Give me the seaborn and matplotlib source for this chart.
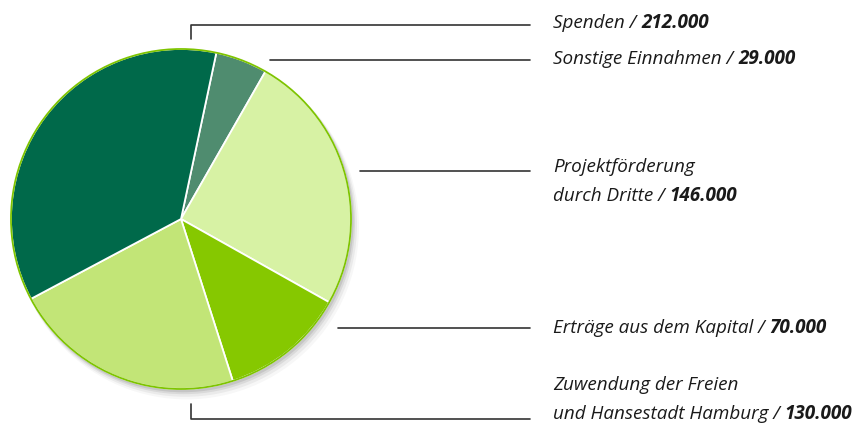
import matplotlib
matplotlib.use("Agg")
import matplotlib.pyplot as plt
from matplotlib.patches import Circle
import seaborn as sns

sns.set_theme(style="white")
plt.rcParams['font.family'] = ['Open Sans', 'DejaVu Sans']

# data (clockwise, starting at top right)
categories = ["Sonstige Einnahmen", "Projektförderung\ndurch Dritte",
              "Erträge aus dem Kapital",
              "Zuwendung der Freien\nund Hansestadt Hamburg", "Spenden"]
values = [29000, 146000, 70000, 130000, 212000]
value_labels = ["29.000", "146.000", "70.000", "130.000", "212.000"]
colors = ["#4f8c6f", "#d7f2a4", "#86c800", "#c2e577", "#00694a"]

W, H = 863, 426
fig = plt.figure(figsize=(W / 100, H / 100), dpi=100)
ax = fig.add_axes([0, 0, 1, 1])
ax.set_xlim(0, W)
ax.set_ylim(0, H)
ax.set_aspect("equal")
ax.axis("off")

def Y(y):
    return H - y

cx, cy, r = 181, 219, 170

# soft shadow
for off, a in [(8, 0.03), (6, 0.05), (4, 0.07), (2.5, 0.09)]:
    ax.add_patch(Circle((cx + off * 0.7, Y(cy) - off), r + off * 0.3,
                        color="black", alpha=a, lw=0, zorder=1))

wedges, _ = ax.pie(values, colors=colors, startangle=78, counterclock=False,
                   center=(cx, Y(cy)), radius=r,
                   wedgeprops=dict(edgecolor="white", linewidth=1.3),
                   frame=True)
for w in wedges:
    w.set_zorder(2)
ax.add_patch(Circle((cx, Y(cy)), r, fill=False, edgecolor="#7ec400",
                    lw=1.3, zorder=3))
ax.set_xlim(0, W)
ax.set_ylim(0, H)
ax.axis("off")

lc = "#333333"
lw = 1.2
# leader lines
ax.plot([191, 191, 530], [Y(39), Y(25), Y(25)], color=lc, lw=lw, zorder=4)
ax.plot([270, 530], [Y(60), Y(60)], color=lc, lw=lw, zorder=4)
ax.plot([360, 530], [Y(171), Y(171)], color=lc, lw=lw, zorder=4)
ax.plot([338, 530], [Y(327.5), Y(327.5)], color=lc, lw=lw, zorder=4)
ax.plot([191, 191, 530], [Y(404), Y(419), Y(419)], color=lc, lw=lw, zorder=4)

# label positions (y of last line centre)
label_y = {0: 59, 1: 196, 2: 328, 3: 414, 4: 23}
tx = 553
fs = 13.6
line_h = 29
fig.canvas.draw()
renderer = fig.canvas.get_renderer()
for i, cat in enumerate(categories):
    lines = cat.split("\n")
    ylast = label_y[i]
    n = len(lines)
    for j, line in enumerate(lines):
        yy = ylast - (n - 1 - j) * line_h
        if j < n - 1:
            ax.text(tx, Y(yy), line, fontsize=fs, style="italic",
                    color="#1a1a1a", va="center", ha="left")
        else:
            t = ax.text(tx, Y(yy), line + " / ", fontsize=fs, style="italic",
                        color="#1a1a1a", va="center", ha="left")
            bb = t.get_window_extent(renderer=renderer)
            ax.text(bb.x1, Y(yy), value_labels[i], fontsize=fs,
                    style="italic", fontweight="bold", color="#1a1a1a",
                    va="center", ha="left")

fig.savefig("out.png", dpi=100)
